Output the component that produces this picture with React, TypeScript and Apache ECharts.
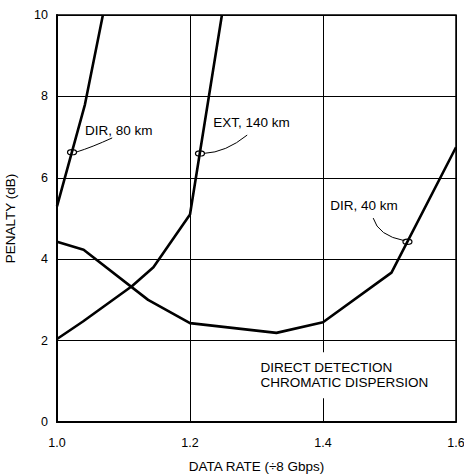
import React, { useEffect, useRef } from "react";
import * as echarts from "echarts";

// Data series (x = data rate ÷8 Gbps, y = penalty dB)
const dir40X = [1.0, 1.04, 1.137, 1.2, 1.33, 1.4, 1.503, 1.6];
const dir40Y = [4.43, 4.23, 3.0, 2.43, 2.19, 2.45, 3.67, 6.75];
const dir80X = [1.0, 1.042, 1.069];
const dir80Y = [5.3, 7.8, 10];
const ext140X = [1.0, 1.039, 1.113, 1.145, 1.2, 1.248];
const ext140Y = [2.04, 2.47, 3.34, 3.8, 5.1, 10];

// Annotations
const annoText = ["DIR, 80 km", "EXT, 140 km", "DIR, 40 km"];
const annoTextX = [1.042, 1.235, 1.411];
const annoTextY = [7.17, 7.35, 5.33];
const annoMarkX = [1.0226, 1.215, 1.527];
const annoMarkY = [6.63, 6.6, 4.43];
const annoLeadX = [1.083, 1.286, 1.4755];
const annoLeadY = [6.98, 7.05, 5.01];
const noteText = "DIRECT DETECTION\nCHROMATIC DISPERSION";
const noteX = 1.306;
const noteY = 1.15;

const FONT = "'Liberation Sans', Arial, Helvetica, sans-serif";

function pairs(xs: number[], ys: number[]) {
  return xs.map((x, i) => [x, ys[i]]);
}

export default function App() {
  const ref = useRef<HTMLDivElement>(null);
  useEffect(() => {
    if (!ref.current) return;
    const chart = echarts.init(ref.current, null, { renderer: "svg" });
    const lineStyle = { color: "#000", width: 2.6 };
    const mk = (name: string, data: number[][]) => ({
      name,
      type: "line",
      data,
      showSymbol: false,
      symbol: "none",
      lineStyle,
      z: 5,
    });
    chart.setOption({
      animation: false,
      backgroundColor: "#fff",
      grid: {
        left: 57,
        right: 8,
        top: 15,
        bottom: 52,
        containLabel: false,
        outerBoundsMode: "none",
        show: true,
        borderColor: "#000",
        borderWidth: 1.5,
      },
      xAxis: {
        type: "value",
        min: 1.0,
        max: 1.6,
        interval: 0.2,
        name: "DATA RATE (÷8 Gbps)",
        nameLocation: "middle",
        nameGap: 37,
        nameTextStyle: { fontFamily: FONT, fontSize: 13.5, color: "#000" },
        axisLine: { lineStyle: { color: "#000", width: 2 } },
        axisTick: { show: false },
        axisLabel: {
          fontFamily: FONT,
          fontSize: 12.5,
          color: "#000",
          margin: 14,
          formatter: (v: number) => v.toFixed(1),
        },
        splitLine: { show: true, lineStyle: { color: "#000", width: 1 } },
      },
      yAxis: {
        type: "value",
        min: 0,
        max: 10,
        interval: 2,
        name: "PENALTY (dB)",
        nameLocation: "middle",
        nameGap: 40,
        nameTextStyle: { fontFamily: FONT, fontSize: 13.5, color: "#000" },
        axisLine: { show: true, lineStyle: { color: "#000", width: 2 } },
        axisTick: { show: false },
        axisLabel: { fontFamily: FONT, fontSize: 12.5, color: "#000", margin: 9 },
        splitLine: { show: true, lineStyle: { color: "#000", width: 1 } },
      },
      series: [
        mk("DIR, 40 km", pairs(dir40X, dir40Y)),
        mk("DIR, 80 km", pairs(dir80X, dir80Y)),
        mk("EXT, 140 km", pairs(ext140X, ext140Y)),
      ],
    });

    const px = (x: number, y: number) =>
      chart.convertToPixel({ gridIndex: 0 }, [x, y]) as number[];

    const elements: any[] = [];
    annoText.forEach((t, i) => {
      const m = px(annoMarkX[i], annoMarkY[i]);
      const tp = px(annoTextX[i], annoTextY[i]);
      const lp = px(annoLeadX[i], annoLeadY[i]);
      elements.push({
        type: "text",
        x: tp[0],
        y: tp[1],
        z: 10,
        style: {
          text: t,
          font: `13.5px ${FONT}`,
          fill: "#000",
          verticalAlign: "middle",
        },
      });
      elements.push({
        type: "ellipse",
        z: 10,
        shape: { cx: m[0], cy: m[1], rx: 4.5, ry: 2.6 },
        style: { fill: "none", stroke: "#000", lineWidth: 1.2 },
      });
      let x1, y1, cpx, cpy;
      if (i === 0) {
        x1 = m[0] + 4;
        y1 = m[1];
        cpx = m[0] + (lp[0] - m[0]) * 0.5;
        cpy = m[1] - 5;
      } else if (i === 1) {
        x1 = m[0] + 4;
        y1 = m[1];
        cpx = m[0] + (lp[0] - m[0]) * 0.55;
        cpy = m[1] - 1;
      } else {
        x1 = m[0] - 3;
        y1 = m[1] - 1;
        cpx = lp[0] + 5;
        cpy = m[1] - 6;
      }
      elements.push({
        type: "bezierCurve",
        z: 10,
        shape: { x1, y1, x2: lp[0], y2: lp[1], cpx1: cpx, cpy1: cpy },
        style: { fill: "none", stroke: "#000", lineWidth: 1 },
      });
    });
    const np = px(noteX, noteY);
    elements.push({
      type: "text",
      x: np[0] - 4,
      y: np[1],
      z: 10,
      style: {
        text: noteText,
        font: `13.5px ${FONT}`,
        fill: "#000",
        lineHeight: 15,
        backgroundColor: "#fff",
        padding: [12, 4, 4, 4],
        verticalAlign: "middle",
      },
    });
    chart.setOption({ graphic: { elements } });

    return () => chart.dispose();
  }, []);
  return (
    <div
      ref={ref}
      style={{ position: "absolute", left: 0, top: 0, width: 464, height: 474 }}
    />
  );
}
